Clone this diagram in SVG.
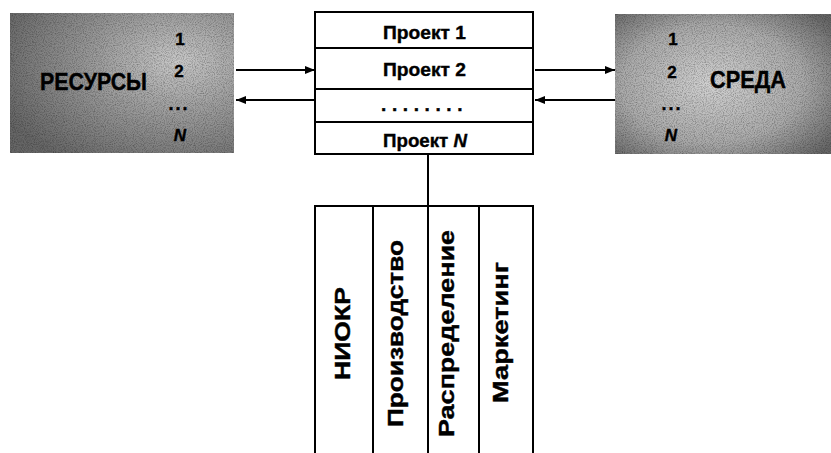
<svg xmlns="http://www.w3.org/2000/svg" width="831" height="453" viewBox="0 0 831 453">
<style>
.t{font-family:"Liberation Sans",Arial,sans-serif;font-weight:bold;fill:#000;stroke:#000;stroke-width:0.4}
.ln{stroke:#000;stroke-width:2;fill:none}
.bx{stroke:#000;stroke-width:2;fill:#fff}
</style>
<defs>
<marker id="ah" viewBox="0 0 10 8" refX="10" refY="4" markerWidth="11" markerHeight="8" markerUnits="userSpaceOnUse" orient="auto">
<path d="M0,0 L10,4 L0,8 Z" fill="#000"/>
</marker>
<radialGradient id="gL" cx="0.75" cy="0.35" r="0.85">
<stop offset="0" stop-color="#c8c8c8"/>
<stop offset="0.45" stop-color="#9a9a9a"/>
<stop offset="1" stop-color="#666"/>
</radialGradient>
<radialGradient id="gR" cx="0.45" cy="0.5" r="0.7">
<stop offset="0" stop-color="#d2d2d2"/>
<stop offset="0.6" stop-color="#aaaaaa"/>
<stop offset="1" stop-color="#666"/>
</radialGradient>
<filter id="noise" x="0" y="0" width="100%" height="100%">
<feTurbulence type="fractalNoise" baseFrequency="0.9" numOctaves="2" seed="3" result="n"/>
<feColorMatrix in="n" type="matrix" values="0 0 0 0 0  0 0 0 0 0  0 0 0 0 0  0 0 0 -1.6 0.95" result="a"/>
<feComposite in="SourceGraphic" in2="a" operator="in"/>
</filter>
</defs>

<g id="resources">
<rect x="10" y="13" width="224" height="140" fill="url(#gL)"/>
<rect x="10" y="13" width="224" height="140" fill="#000" opacity="0.4" filter="url(#noise)"/>
<text class="t" x="40" y="90" font-size="24" textLength="107" lengthAdjust="spacingAndGlyphs">РЕСУРСЫ</text>
<text class="t" x="180" y="45" font-size="17" text-anchor="middle">1</text>
<text class="t" x="179" y="77" font-size="17" text-anchor="middle">2</text>
<text class="t" x="179" y="110" font-size="18" text-anchor="middle" letter-spacing="2">...</text>
<text class="t" x="180" y="141" font-size="17" text-anchor="middle" font-style="italic">N</text>
</g>

<g id="environment">
<rect x="615" y="14" width="216" height="140" fill="url(#gR)"/>
<rect x="615" y="14" width="216" height="140" fill="#000" opacity="0.4" filter="url(#noise)"/>
<text class="t" x="710" y="88" font-size="23" textLength="76" lengthAdjust="spacingAndGlyphs">СРЕДА</text>
<text class="t" x="673" y="45" font-size="17" text-anchor="middle">1</text>
<text class="t" x="672" y="78" font-size="17" text-anchor="middle">2</text>
<text class="t" x="672" y="110" font-size="18" text-anchor="middle" letter-spacing="2">...</text>
<text class="t" x="671" y="141" font-size="17" text-anchor="middle" font-style="italic">N</text>
</g>

<g id="projects">
<rect class="bx" x="315" y="12" width="218" height="142"/>
<line class="ln" x1="315" y1="48" x2="533" y2="48"/>
<line class="ln" x1="315" y1="89" x2="533" y2="89"/>
<line class="ln" x1="315" y1="122" x2="533" y2="122"/>
<text class="t" x="383" y="39" font-size="19" textLength="83" lengthAdjust="spacingAndGlyphs">Проект 1</text>
<text class="t" x="383" y="76" font-size="19" textLength="83" lengthAdjust="spacingAndGlyphs">Проект 2</text>
<text class="t" x="381" y="111" font-size="19" letter-spacing="5.6">........</text>
<text class="t" x="383" y="147" font-size="19" textLength="84" lengthAdjust="spacingAndGlyphs">Проект <tspan font-style="italic">N</tspan></text>
</g>

<g id="functions">
<path class="ln" d="M315,453 V206 H533 V453"/>
<line class="ln" x1="373" y1="206" x2="373" y2="453"/>
<line class="ln" x1="428" y1="206" x2="428" y2="453"/>
<line class="ln" x1="479" y1="206" x2="479" y2="453"/>
<text class="t" transform="translate(350,380) rotate(-90)" font-size="22" textLength="93" lengthAdjust="spacingAndGlyphs">НИОКР</text>
<text class="t" transform="translate(403,427) rotate(-90)" font-size="22" textLength="187" lengthAdjust="spacingAndGlyphs">Производство</text>
<text class="t" transform="translate(454,437) rotate(-90)" font-size="22" textLength="207" lengthAdjust="spacingAndGlyphs">Распределение</text>
<text class="t" transform="translate(508,403) rotate(-90)" font-size="22" textLength="141" lengthAdjust="spacingAndGlyphs">Маркетинг</text>
</g>

<g id="connectors">
<line class="ln" x1="236" y1="70" x2="315" y2="70" marker-end="url(#ah)"/>
<line class="ln" x1="315" y1="100" x2="236" y2="100" marker-end="url(#ah)"/>
<line class="ln" x1="535" y1="70" x2="615" y2="70" marker-end="url(#ah)"/>
<line class="ln" x1="615" y1="100" x2="535" y2="100" marker-end="url(#ah)"/>
<line class="ln" x1="428" y1="154" x2="428" y2="206"/>
</g>
</svg>
